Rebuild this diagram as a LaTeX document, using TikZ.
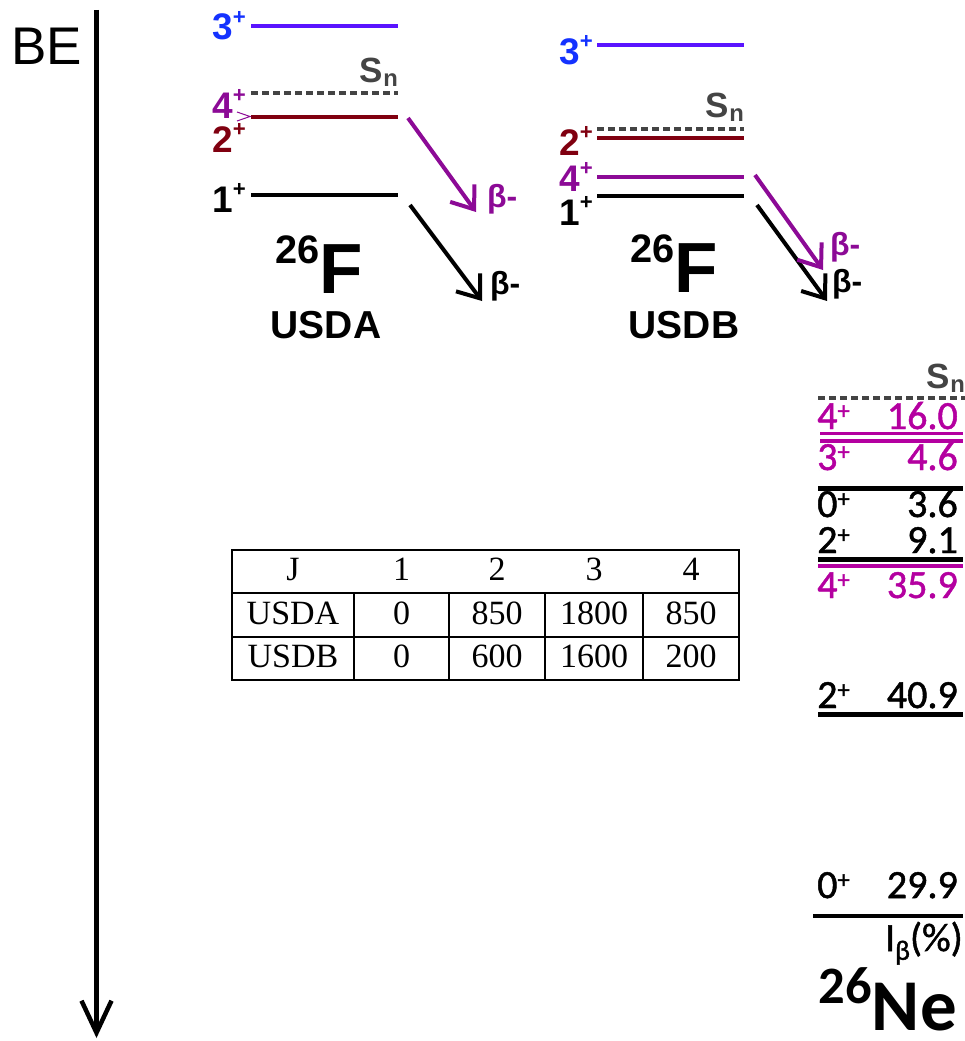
\documentclass[tikz,border=0pt]{standalone}
\usepackage{fontspec}
\usepackage{graphicx}
\setmainfont{Liberation Sans}
\newfontfamily\calibri[FakeBold=1.2]{Carlito}
\newfontfamily\calibrib{Carlito Bold}
\newfontfamily\tabfont{Liberation Serif}
\usetikzlibrary{arrows.meta}
\newcommand\fs[1]{\fontsize{#1}{#1}\selectfont}
\newcommand\upa{\raisebox{0.42em}{\scalebox{0.6}{+}}}
\newcommand\upc{\raisebox{0.25em}{\scalebox{0.62}{+}}}
\newcommand\dnn{\raisebox{-0.12em}{\scalebox{0.68}{n}}}
\definecolor{lvblue}{RGB}{90,20,255}
\definecolor{labblue}{RGB}{20,50,255}
\definecolor{purp}{RGB}{140,10,150}
\definecolor{maroonc}{RGB}{128,0,16}
\definecolor{mag}{RGB}{180,0,160}
\definecolor{sgray}{RGB}{68,68,68}
\begin{document}
\begin{tikzpicture}[x=1pt,y=-1pt,
  lvl/.style={line width=4pt},
  snl/.style={line width=4.5pt, sgray, dash pattern=on 7pt off 4pt},
  lab/.style={font=\fs{37}\bfseries, inner sep=0pt, anchor=base east},
  snlab/.style={font=\fs{35}\bfseries, text=sgray, inner sep=0pt, anchor=base east},
  bet/.style={font=\fs{32}\bfseries, inner sep=0pt, anchor=west},
  decay/.style={line width=4pt, -{Straight Barb[length=20pt,width=30pt]}},
  nel/.style={font=\calibri\fs{40}, inner sep=0pt, anchor=base west},
  nev/.style={font=\calibri\fs{40}, inner sep=0pt, anchor=base east},
  tab/.style={font=\tabfont\fs{34}, inner sep=0pt, anchor=base},
  tline/.style={line width=2pt}]
\useasboundingbox (0,0) rectangle (965,1041);

% BE axis
\node[font=\fs{53}, inner sep=0pt, anchor=base west] (be) at (11,64) {BE};
\coordinate (betop) at (96.5,10);
\coordinate (bebot) at (96.5,1038);
\draw[line width=4.5pt, -{Straight Barb[length=32pt,width=30pt]}] (betop) -- (bebot);

% ---------- USDA ----------
\coordinate (a3l) at (251,26);   \coordinate (a3r) at (398,26);
\coordinate (asl) at (251,93);   \coordinate (asr) at (398,93);
\coordinate (a2l) at (251,117);  \coordinate (a2r) at (398,117);
\coordinate (a1l) at (251,195);  \coordinate (a1r) at (398,195);
\draw[lvl,lvblue] (a3l) -- (a3r);
\draw[snl] (asl) -- (asr);
\draw[lvl,maroonc] (a2l) -- (a2r);
\draw[lvl,black] (a1l) -- (a1r);
\node[lab,text=labblue] (a3lab) at (246,40) {3\upa};
\node[snlab] (asn) at (398,82) {S\dnn};
\node[lab,text=purp] (a4lab) at (246,118) {4\upa};
\node[lab,text=maroonc] (a2lab) at (246,152) {2\upa};
\node[lab,text=black] (a1lab) at (246,212) {1\upa};
\coordinate (gt1) at (237,112); \coordinate (gt2) at (250,116.5); \coordinate (gt3) at (237,121);
\draw[purp,line width=1pt] (gt1) -- (gt2) -- (gt3);
\coordinate (apS) at (408,118); \coordinate (apE) at (476,212);
\coordinate (abS) at (410,205); \coordinate (abE) at (482,301);
\draw[decay,purp] (apS) -- (apE);
\draw[decay,black] (abS) -- (abE);
\node[bet,text=purp] (apb) at (487,199) {β-};
\node[bet,text=black] (abb) at (490,286) {β-};
\node[font=\fs{71}\bfseries, inner sep=0pt, anchor=base] (aF) at (319.5,293) {\raisebox{0.41em}{\scalebox{0.56}{26}}F};
\node[font=\fs{39}\bfseries, inner sep=0pt, anchor=base] (aname) at (326,338) {USDA};

% ---------- USDB ----------
\coordinate (b3l) at (597,45);   \coordinate (b3r) at (744,45);
\coordinate (bsl) at (597,129);  \coordinate (bsr) at (744,129);
\coordinate (b2l) at (597,138);  \coordinate (b2r) at (744,138);
\coordinate (b4l) at (597,177);  \coordinate (b4r) at (744,177);
\coordinate (b1l) at (597,195.5);\coordinate (b1r) at (744,195.5);
\draw[lvl,lvblue] (b3l) -- (b3r);
\draw[snl] (bsl) -- (bsr);
\draw[lvl,maroonc] (b2l) -- (b2r);
\draw[lvl,purp] (b4l) -- (b4r);
\draw[lvl,black] (b1l) -- (b1r);
\node[lab,text=labblue] (b3lab) at (593,64) {3\upa};
\node[snlab] (bsn) at (744,117) {S\dnn};
\node[lab,text=maroonc] (b2lab) at (593,155) {2\upa};
\node[lab,text=purp] (b4lab) at (593,191) {4\upa};
\node[lab,text=black] (b1lab) at (593,225) {1\upa};
\coordinate (bpS) at (755,175); \coordinate (bpE) at (823,270);
\coordinate (bbS) at (757,205); \coordinate (bbE) at (827,301);
\draw[decay,black] (bbS) -- (bbE);
\draw[decay,purp] (bpS) -- (bpE);
\node[bet,text=purp] (bpb) at (830,247) {β-};
\node[bet,text=black] (bbb) at (832,284) {β-};
\node[font=\fs{71}\bfseries, inner sep=0pt, anchor=base] (bF) at (674,292) {\raisebox{0.41em}{\scalebox{0.56}{26}}F};
\node[font=\fs{39}\bfseries, inner sep=0pt, anchor=base] (bname) at (684,338) {USDB};

% ---------- 26Ne ----------
\node[snlab] (nsn) at (965,388) {S\dnn};
\coordinate (nsl) at (818,398); \coordinate (nsr) at (965,398);
\draw[snl] (nsl) -- (nsr);
\node[nel,text=mag] (n4a) at (817,429) {4\upc};
\node[nev,text=mag] (n4av) at (958,429) {16.0};
\coordinate (m1l) at (820,433.5); \coordinate (m1r) at (963,433.5);
\coordinate (m2l) at (820,441); \coordinate (m2r) at (963,441);
\draw[line width=3.5pt,mag] (m1l) -- (m1r);
\draw[line width=3.5pt,mag] (m2l) -- (m2r);
\node[nel,text=mag] (n3) at (817,470) {3\upc};
\node[nev,text=mag] (n3v) at (958,470) {4.6};
\coordinate (k1l) at (818,488); \coordinate (k1r) at (963,488);
\draw[line width=5pt] (k1l) -- (k1r);
\node[nel] (n0a) at (817,517) {0\upc};
\node[nev] (n0av) at (958,517) {3.6};
\node[nel] (n2a) at (817,553) {2\upc};
\node[nev] (n2av) at (958,553) {9.1};
\coordinate (k2l) at (818,559); \coordinate (k2r) at (963,559);
\draw[line width=5pt] (k2l) -- (k2r);
\coordinate (m3l) at (818,566); \coordinate (m3r) at (963,566);
\draw[line width=4pt,mag] (m3l) -- (m3r);
\node[nel,text=mag] (n4b) at (817,598) {4\upc};
\node[nev,text=mag] (n4bv) at (958,598) {35.9};
\node[nel] (n2b) at (817,708) {2\upc};
\node[nev] (n2bv) at (958,708) {40.9};
\coordinate (k3l) at (818,714.5); \coordinate (k3r) at (963,714.5);
\draw[line width=4.5pt] (k3l) -- (k3r);
\node[nel] (n0b) at (817,898) {0\upc};
\node[nev] (n0bv) at (958,898) {29.9};
\coordinate (k4l) at (813,916); \coordinate (k4r) at (963,916);
\draw[line width=4.5pt] (k4l) -- (k4r);
\node[font=\calibri\fs{40}, inner sep=0pt, anchor=base east] (ib) at (963,951) {I\raisebox{-0.22em}{\scalebox{0.7}{β}}(\%)};
\node[font=\calibrib\fs{73}, inner sep=0pt, anchor=base east] (ne) at (957,1030) {\raisebox{0.36em}{\scalebox{0.72}{26}}Ne};

% ---------- Table ----------
\coordinate (tTL) at (232,550); \coordinate (tBR) at (739,680);
\draw[tline] (tTL) rectangle (tBR);
\coordinate (h1l) at (232,593); \coordinate (h1r) at (739,593);
\coordinate (h2l) at (232,637); \coordinate (h2r) at (739,637);
\draw[tline] (h1l) -- (h1r);
\draw[tline] (h2l) -- (h2r);
\foreach \cx [count=\i] in {354,449,545,643}{
  \coordinate (v\i t) at (\cx,593); \coordinate (v\i b) at (\cx,680);
  \draw[tline] (v\i t) -- (v\i b);
}
\node[tab] (c00) at (293,580) {J};
\node[tab] (c01) at (401.5,580) {1};
\node[tab] (c02) at (497,580) {2};
\node[tab] (c03) at (594,580) {3};
\node[tab] (c04) at (691,580) {4};
\node[tab] (c10) at (293,624) {USDA};
\node[tab] (c11) at (401.5,624) {0};
\node[tab] (c12) at (497,624) {850};
\node[tab] (c13) at (594,624) {1800};
\node[tab] (c14) at (691,624) {850};
\node[tab] (c20) at (293,667) {USDB};
\node[tab] (c21) at (401.5,667) {0};
\node[tab] (c22) at (497,667) {600};
\node[tab] (c23) at (594,667) {1600};
\node[tab] (c24) at (691,667) {200};
\end{tikzpicture}
\end{document}
